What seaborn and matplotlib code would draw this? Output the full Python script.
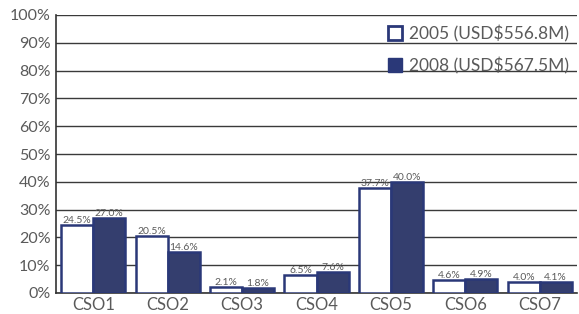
import pandas as pd
import numpy as np
import seaborn as sns
import matplotlib.pyplot as plt
from matplotlib.patches import Patch

categorias = ["CSO1", "CSO2", "CSO3", "CSO4", "CSO5", "CSO6", "CSO7"]
anos = ["2005 (USD$556.8M)", "2008 (USD$567.5M)"]
valores_2005 = [24.5, 20.5, 2.1, 6.5, 37.7, 4.6, 4.0]
valores_2008 = [27.0, 14.6, 1.8, 7.6, 40.0, 4.9, 4.1]

dados = pd.DataFrame({
    "Categoria": categorias * 2,
    "Ano": [anos[0]] * 7 + [anos[1]] * 7,
    "Valor": valores_2005 + valores_2008,
})

azul = "#2a3878"
cinza = "#5a5a5a"

sns.set_style("white")
plt.rcParams["font.family"] = ["Lato", "DejaVu Sans"]

fig = plt.figure(figsize=(5.79, 3.14), dpi=100)
ax = fig.add_axes([56 / 579, 21 / 314, 521 / 579, 278 / 314])

sns.barplot(data=dados, x="Categoria", y="Valor", hue="Ano",
            palette=["white", azul], edgecolor=azul, linewidth=1.8,
            width=0.86, ax=ax, legend=False, zorder=3)

for cont in ax.containers:
    ax.bar_label(cont, labels=[f"{v:.1f}%" for v in cont.datavalues],
                 fontsize=7.5, color=cinza, padding=0)

ax.set_ylim(0, 100)
ax.set_yticks(range(0, 101, 10))
ax.set_yticklabels([f"{t}%" for t in range(0, 101, 10)])
ax.yaxis.grid(True, color="#3a3a3a", linewidth=1.0, zorder=0)
ax.set_axisbelow(True)
ax.set_xlabel("")
ax.set_ylabel("")
ax.tick_params(axis="y", labelsize=11.5, colors=cinza, length=0, pad=4)
ax.tick_params(axis="x", labelsize=12, colors=cinza, length=0, pad=3)
for lado in ["top", "right"]:
    ax.spines[lado].set_visible(False)
ax.spines["left"].set_color("#333333")
ax.spines["bottom"].set_color("#333333")
ax.spines["left"].set_linewidth(1.2)
ax.spines["bottom"].set_linewidth(1.2)

itens = [Patch(facecolor="white", edgecolor=azul, linewidth=2, label=anos[0]),
         Patch(facecolor=azul, edgecolor=azul, label=anos[1])]
leg = ax.legend(handles=itens, loc="upper right", bbox_to_anchor=(1.015, 1.02),
                frameon=False, fontsize=12.5, handlelength=0.8, handleheight=0.8,
                handletextpad=0.4, labelspacing=0.85, labelcolor=cinza)

plt.savefig("out.png", dpi=100)
